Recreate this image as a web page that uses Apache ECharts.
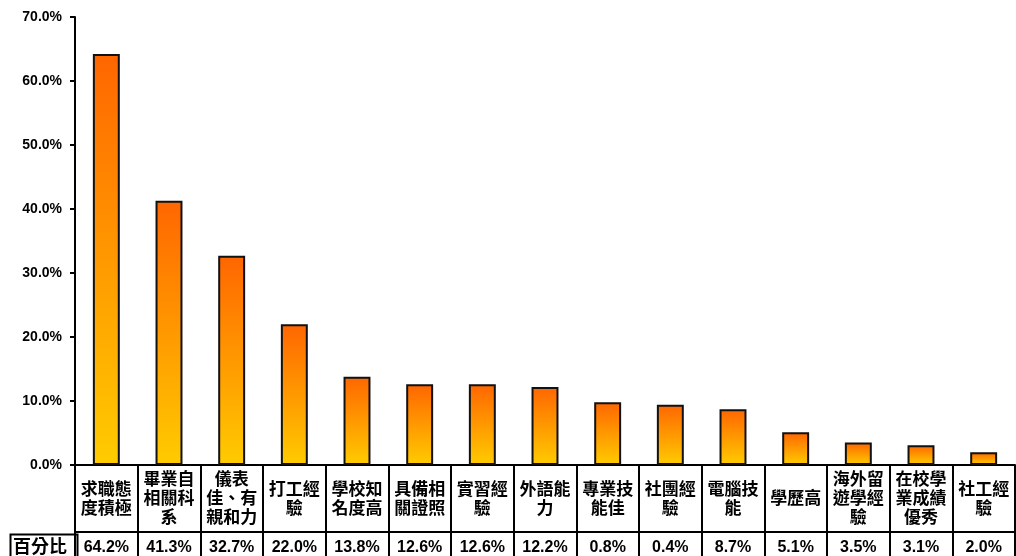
<!DOCTYPE html>
<html>
<head>
<meta charset="utf-8">
<script src="https://cdn.jsdelivr.net/npm/echarts@6/dist/echarts.min.js"></script>
<style>
  html, body { margin: 0; padding: 0; background: #fff; }
  #main { width: 1016px; height: 556px; }
</style>
</head>
<body>
<div id="main"></div>
<script>
// categories (line breaks as in the table cells)
const categories = [
  '求職態\n度積極', '畢業自\n相關科\n系', '儀表\n佳、有\n親和力', '打工經\n驗', '學校知\n名度高',
  '具備相\n關證照', '實習經\n驗', '外語能\n力', '專業技\n能佳', '社團經\n驗',
  '電腦技\n能', '學歷高', '海外留\n遊學經\n驗', '在校學\n業成績\n優秀', '社工經\n驗'
]
// bar heights
const values = [64.2, 41.3, 32.7, 22.0, 13.8, 12.6, 12.6, 12.2, 9.8, 9.4, 8.7, 5.1, 3.5, 3.1, 2.0]
// data table row, text as printed
const pctLabels = ['64.2%', '41.3%', '32.7%', '22.0%', '13.8%', '12.6%', '12.6%', '12.2%', '0.8%', '0.4%', '8.7%', '5.1%', '3.5%', '3.1%', '2.0%']
const rowHeader = '百分比'
const yTicks = { min: 0, max: 70, step: 10 }

const cjk = '"Noto Sans CJK TC", "Liberation Sans", sans-serif'
const latin = '"Liberation Sans", Arial, sans-serif'

const chart = echarts.init(document.getElementById('main'))

chart.setOption({
  backgroundColor: '#fff',
  animation: false,
  grid: { left: 75, right: 1, top: 17, bottom: 91 },
  xAxis: [{
    type: 'category',
    data: categories,
    axisLine: { lineStyle: { color: '#000', width: 2 } },
    axisTick: { show: true, interval: 0, length: 67, lineStyle: { color: '#000', width: 2 } },
    axisLabel: {
      interval: 0, margin: 33, verticalAlign: 'middle',
      color: '#000', fontFamily: cjk, fontSize: 17, fontWeight: 'bold', lineHeight: 19
    },
    splitLine: { show: false }
  }, {
    type: 'category',
    position: 'bottom',
    offset: 67,
    data: pctLabels,
    axisLine: { lineStyle: { color: '#000', width: 2 } },
    axisTick: { show: true, interval: 0, length: 30, lineStyle: { color: '#000', width: 2 } },
    axisLabel: {
      interval: 0, margin: 16, verticalAlign: 'middle',
      color: '#000', fontFamily: latin, fontSize: 16, fontWeight: 'bold'
    },
    splitLine: { show: false }
  }],
  yAxis: {
    type: 'value',
    min: yTicks.min, max: yTicks.max, interval: yTicks.step,
    axisLine: { show: true, lineStyle: { color: '#000', width: 2 } },
    axisTick: { show: true, length: 5, lineStyle: { color: '#000', width: 2 } },
    axisLabel: {
      margin: 13, color: '#000', fontFamily: latin, fontSize: 14, fontWeight: 'bold',
      formatter: v => v.toFixed(1) + '%'
    },
    splitLine: { show: false }
  },
  series: [{
    type: 'bar',
    xAxisIndex: 0,
    data: values,
    barWidth: '43%',
    itemStyle: {
      color: new echarts.graphic.LinearGradient(0, 0, 0, 1, [
        { offset: 0, color: '#FF6600' },
        { offset: 1, color: '#FFCC00' }
      ]),
      borderColor: '#111',
      borderWidth: 2
    }
  }],
  // header cell of the data table row
  graphic: [{
    type: 'rect',
    left: 8, top: 532,
    shape: { width: 67, height: 34 },
    style: { fill: 'none', stroke: '#000', lineWidth: 2 }
  }, {
    type: 'text',
    left: 13, top: 537,
    style: { text: rowHeader, fill: '#000', font: 'bold 18px ' + cjk }
  }]
})
</script>
</body>
</html>
